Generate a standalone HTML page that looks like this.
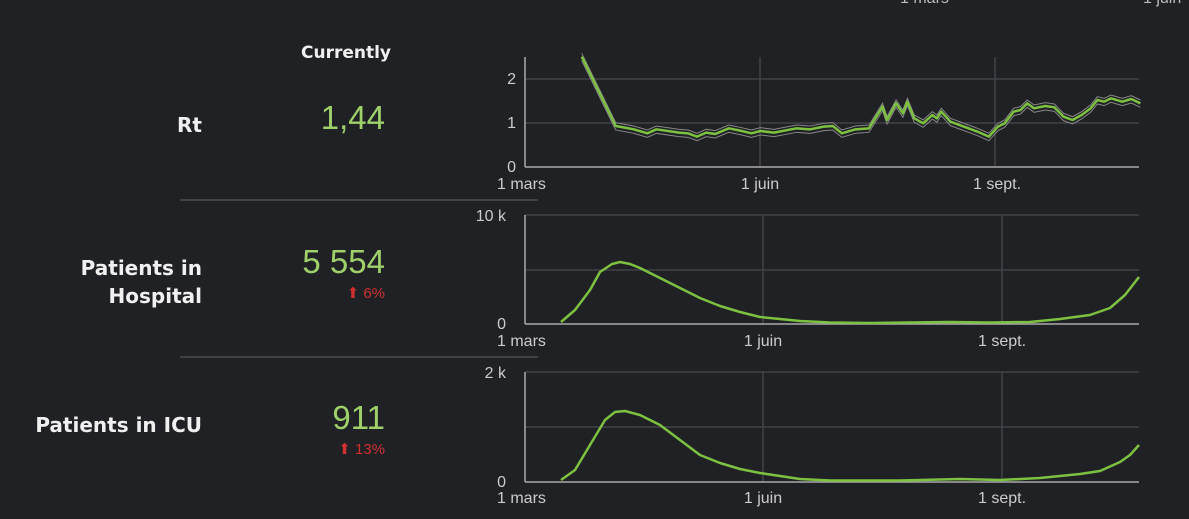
<!DOCTYPE html>
<html><head><meta charset="utf-8"><style>
html,body{margin:0;padding:0;background:#202125;width:1189px;height:519px;overflow:hidden}
svg{display:block}
text{font-family:"Liberation Sans","DejaVu Sans",sans-serif}
text.b{font-family:"DejaVu Sans",sans-serif;font-weight:bold}
</style></head><body>
<svg width="1189" height="519" viewBox="0 0 1189 519" xmlns="http://www.w3.org/2000/svg">
<rect width="1189" height="519" fill="#202125"/>
<g fill="#bbb" font-size="16">
<text x="900" y="3">1 mars</text>
<text x="1143" y="3">1 juin</text>
</g>
<text class="b" x="346" y="58" fill="#f0f0f0" font-size="17" text-anchor="middle">Currently</text>
<g fill="#f0f0f0" font-size="20" text-anchor="end">
<text class="b" x="202" y="132">Rt</text>
<text class="b" x="202" y="275">Patients in</text>
<text class="b" x="202" y="303">Hospital</text>
<text class="b" x="202" y="432">Patients in ICU</text>
</g>
<g fill="#9fd06a" font-size="33" text-anchor="end">
<text x="385" y="129">1,44</text>
<text x="385" y="273">5 554</text>
<text x="385" y="429">911</text>
</g>
<g fill="#d03030" font-size="15" text-anchor="end">
<text x="385" y="298">⬆ 6%</text>
<text x="385" y="454">⬆ 13%</text>
</g>
<line x1="180" y1="200" x2="538" y2="200" stroke="#4a4b50" stroke-width="1.5"/>
<line x1="180" y1="357" x2="538" y2="357" stroke="#4a4b50" stroke-width="1.5"/>

<!-- chart1 -->
<g stroke="#48494d" stroke-width="1.3">
<line x1="525" y1="79" x2="1139" y2="79"/><line x1="525" y1="123" x2="1139" y2="123"/>
<line x1="760" y1="57" x2="760" y2="167"/><line x1="995" y1="57" x2="995" y2="167"/>
</g>
<g stroke="#aaa" stroke-width="1.5"><line x1="525" y1="57" x2="525" y2="167"/><line x1="525" y1="167" x2="1139" y2="167"/></g>
<g fill="#ccc" font-size="16">
<text x="516" y="84" text-anchor="end">2</text><text x="516" y="128" text-anchor="end">1</text><text x="516" y="172" text-anchor="end">0</text>
<text x="497" y="189">1 mars</text><text x="760" y="189" text-anchor="middle">1 juin</text><text x="997" y="189" text-anchor="middle">1 sept.</text>
</g>
<g transform="translate(480,0) scale(0.4523,0.3333)" fill="none">
<polyline vector-effect="non-scaling-stroke" stroke="#888" stroke-width="1" transform="translate(0,-10)" points="225,170 300,378 340,388 370,400 390,388 440,398 460,400 480,410 500,398 520,402 550,385 575,392 600,400 620,393 650,398 700,385 730,388 760,380 780,378 800,400 830,388 860,385 890,320 900,360 920,310 935,340 945,305 960,355 980,370 1000,345 1010,355 1020,335 1040,365 1060,375 1080,385 1100,395 1125,410 1145,380 1160,370 1180,335 1195,330 1210,310 1225,325 1250,318 1270,322 1290,350 1310,360 1330,345 1350,325 1365,300 1380,305 1395,295 1420,305 1440,297 1460,310"/>
<polyline vector-effect="non-scaling-stroke" stroke="#888" stroke-width="1" transform="translate(0,12)" points="225,170 300,378 340,388 370,400 390,388 440,398 460,400 480,410 500,398 520,402 550,385 575,392 600,400 620,393 650,398 700,385 730,388 760,380 780,378 800,400 830,388 860,385 890,320 900,360 920,310 935,340 945,305 960,355 980,370 1000,345 1010,355 1020,335 1040,365 1060,375 1080,385 1100,395 1125,410 1145,380 1160,370 1180,335 1195,330 1210,310 1225,325 1250,318 1270,322 1290,350 1310,360 1330,345 1350,325 1365,300 1380,305 1395,295 1420,305 1440,297 1460,310"/>
<polyline vector-effect="non-scaling-stroke" stroke="#7cc13f" stroke-width="2.5" stroke-linejoin="round" points="225,170 300,378 340,388 370,400 390,388 440,398 460,400 480,410 500,398 520,402 550,385 575,392 600,400 620,393 650,398 700,385 730,388 760,380 780,378 800,400 830,388 860,385 890,320 900,360 920,310 935,340 945,305 960,355 980,370 1000,345 1010,355 1020,335 1040,365 1060,375 1080,385 1100,395 1125,410 1145,380 1160,370 1180,335 1195,330 1210,310 1225,325 1250,318 1270,322 1290,350 1310,360 1330,345 1350,325 1365,300 1380,305 1395,295 1420,305 1440,297 1460,310"/>
</g>

<!-- chart2 -->
<g stroke="#48494d" stroke-width="1.3">
<line x1="525" y1="215" x2="1139" y2="215"/><line x1="525" y1="270" x2="1139" y2="270"/>
<line x1="763" y1="215" x2="763" y2="324"/><line x1="1002" y1="215" x2="1002" y2="324"/>
</g>
<g stroke="#aaa" stroke-width="1.5"><line x1="525" y1="215" x2="525" y2="324"/><line x1="525" y1="324" x2="1139" y2="324"/></g>
<g fill="#ccc" font-size="16">
<text x="506" y="221" text-anchor="end">10 k</text><text x="506" y="329" text-anchor="end">0</text>
<text x="497" y="346">1 mars</text><text x="763" y="346" text-anchor="middle">1 juin</text><text x="1002" y="346" text-anchor="middle">1 sept.</text>
</g>
<polyline fill="none" stroke="#7cc13f" stroke-width="2.5" stroke-linejoin="round" points="561,322 575,310 590,290 600,272 612,264 620,262 630,264 640,268 660,278 680,288 700,298 720,306 740,312 760,317 780,319 800,321 830,322.5 870,323 950,322 990,322.5 1030,322 1060,319 1090,315 1110,308 1125,295 1139,277"/>

<!-- chart3 -->
<g stroke="#48494d" stroke-width="1.3">
<line x1="525" y1="372" x2="1139" y2="372"/><line x1="525" y1="427" x2="1139" y2="427"/>
<line x1="763" y1="372" x2="763" y2="482"/><line x1="1002" y1="372" x2="1002" y2="482"/>
</g>
<g stroke="#aaa" stroke-width="1.5"><line x1="525" y1="372" x2="525" y2="482"/><line x1="525" y1="482" x2="1139" y2="482"/></g>
<g fill="#ccc" font-size="16">
<text x="506" y="378" text-anchor="end">2 k</text><text x="506" y="487" text-anchor="end">0</text>
<text x="497" y="503">1 mars</text><text x="763" y="503" text-anchor="middle">1 juin</text><text x="1002" y="503" text-anchor="middle">1 sept.</text>
</g>
<polyline fill="none" stroke="#7cc13f" stroke-width="2.5" stroke-linejoin="round" points="561,480 575,470 590,445 605,420 615,412 625,411 640,415 660,425 680,440 700,455 720,463 740,469 760,473 780,476 800,479 830,480.5 900,480.5 960,479 1000,480 1040,478 1080,474 1100,471 1120,462 1130,455 1139,445"/>
</svg>
</body></html>
